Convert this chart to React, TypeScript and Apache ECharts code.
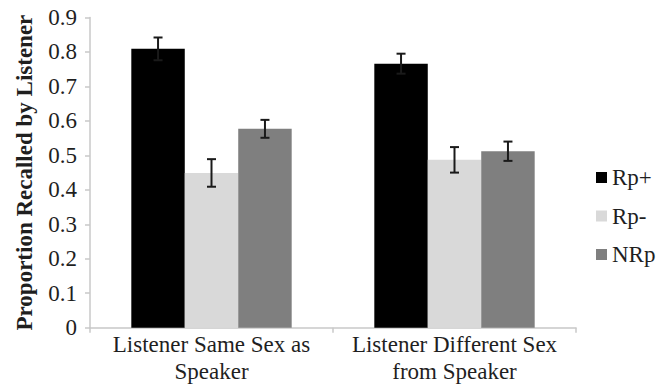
import React, { useEffect, useRef } from "react";
import * as echarts from "echarts";

const categories = ["Listener Same Sex as\nSpeaker", "Listener Different Sex\nfrom Speaker"];
const seriesNames = ["Rp+", "Rp-", "NRp"];
const rpPlus = [0.809, 0.766];
const rpPlusErr = [0.033, 0.029];
const rpMinus = [0.449, 0.487];
const rpMinusErr = [0.04, 0.037];
const nrp = [0.577, 0.512];
const nrpErr = [0.026, 0.028];
const yTicks = [0, 0.1, 0.2, 0.3, 0.4, 0.5, 0.6, 0.7, 0.8, 0.9];

const colors = ["#000000", "#d9d9d9", "#7f7f7f"];
const FONT = "Liberation Serif";
const TEXT = "#1f1f1f";
const BAR_FRAC = 0.22;

export default function App() {
  const ref = useRef<HTMLDivElement>(null);
  useEffect(() => {
    document.body.style.margin = "0";
    if (!ref.current) return;
    const chart = echarts.init(ref.current, undefined, { renderer: "svg" });
    const values = [rpPlus, rpMinus, nrp];
    const errs = [rpPlusErr, rpMinusErr, nrpErr];

    const barSeries = seriesNames.map((name, i) => ({
      name,
      type: "bar",
      data: values[i],
      barWidth: `${BAR_FRAC * 100}%`,
      barGap: "0%",
      itemStyle: { color: colors[i] },
      z: 2,
    }));

    const errSeries = seriesNames.map((name, i) => ({
      name: name + " err",
      type: "custom",
      z: 5,
      data: values[i].map((v, c) => [c, v, errs[i][c]]),
      encode: { x: 0, y: 1 },
      renderItem: (params: any, api: any) => {
        const cat = api.value(0);
        const v = api.value(1);
        const e = api.value(2);
        const band = api.size([1, 0])[0];
        const bw = band * BAR_FRAC;
        const offset = (i - 1) * bw;
        const top = api.coord([cat, v + e]);
        const bot = api.coord([cat, v - e]);
        const x = top[0] + offset;
        const hw = 4.5;
        const style = { stroke: "#1a1a1a", lineWidth: 2 };
        return {
          type: "group",
          children: [
            { type: "line", shape: { x1: x, y1: top[1], x2: x, y2: bot[1] }, style },
            { type: "line", shape: { x1: x - hw, y1: top[1], x2: x + hw, y2: top[1] }, style },
            { type: "line", shape: { x1: x - hw, y1: bot[1], x2: x + hw, y2: bot[1] }, style },
          ],
        };
      },
    }));

    chart.setOption({
      animation: false,
      backgroundColor: "#ffffff",
      textStyle: { fontFamily: FONT },
      grid: { left: 90, right: 88, top: 17.5, bottom: 59.3, containLabel: false },
      legend: {
        data: seriesNames,
        orient: "vertical",
        left: 591,
        top: 161,
        itemWidth: 11,
        itemHeight: 11,
        itemGap: 15.5,
        icon: "rect",
        textStyle: { fontFamily: FONT, fontSize: 23, color: TEXT },
      },
      xAxis: {
        type: "category",
        data: categories,
        axisLine: { lineStyle: { color: "#c8c8c8", width: 1.5 } },
        axisTick: { show: true, length: 5, lineStyle: { color: "#c8c8c8", width: 1.5 } },
        axisLabel: {
          fontFamily: FONT,
          fontSize: 23,
          color: TEXT,
          lineHeight: 27,
          margin: 3,
          interval: 0,
        },
      },
      yAxis: {
        type: "value",
        min: yTicks[0],
        max: yTicks[yTicks.length - 1],
        interval: 0.1,
        name: "Proportion Recalled by Listener",
        nameLocation: "middle",
        nameRotate: 90,
        nameGap: 54,
        nameTextStyle: { fontFamily: FONT, fontSize: 23, fontWeight: "bold", color: TEXT },
        splitLine: { show: false },
        axisLine: { show: true, lineStyle: { color: "#c8c8c8", width: 1.5 } },
        axisTick: { show: true, length: 5, lineStyle: { color: "#c8c8c8", width: 1.5 } },
        axisLabel: {
          fontFamily: FONT,
          fontSize: 23,
          color: TEXT,
          margin: 13,
          formatter: (v: number) => (Math.abs(v) < 1e-9 ? "0" : v.toFixed(1)),
        },
      },
      series: [...barSeries, ...errSeries],
    });
    return () => chart.dispose();
  }, []);
  return (
    <div
      ref={ref}
      style={{ position: "fixed", left: 0, top: 0, width: 664, height: 387 }}
    />
  );
}
